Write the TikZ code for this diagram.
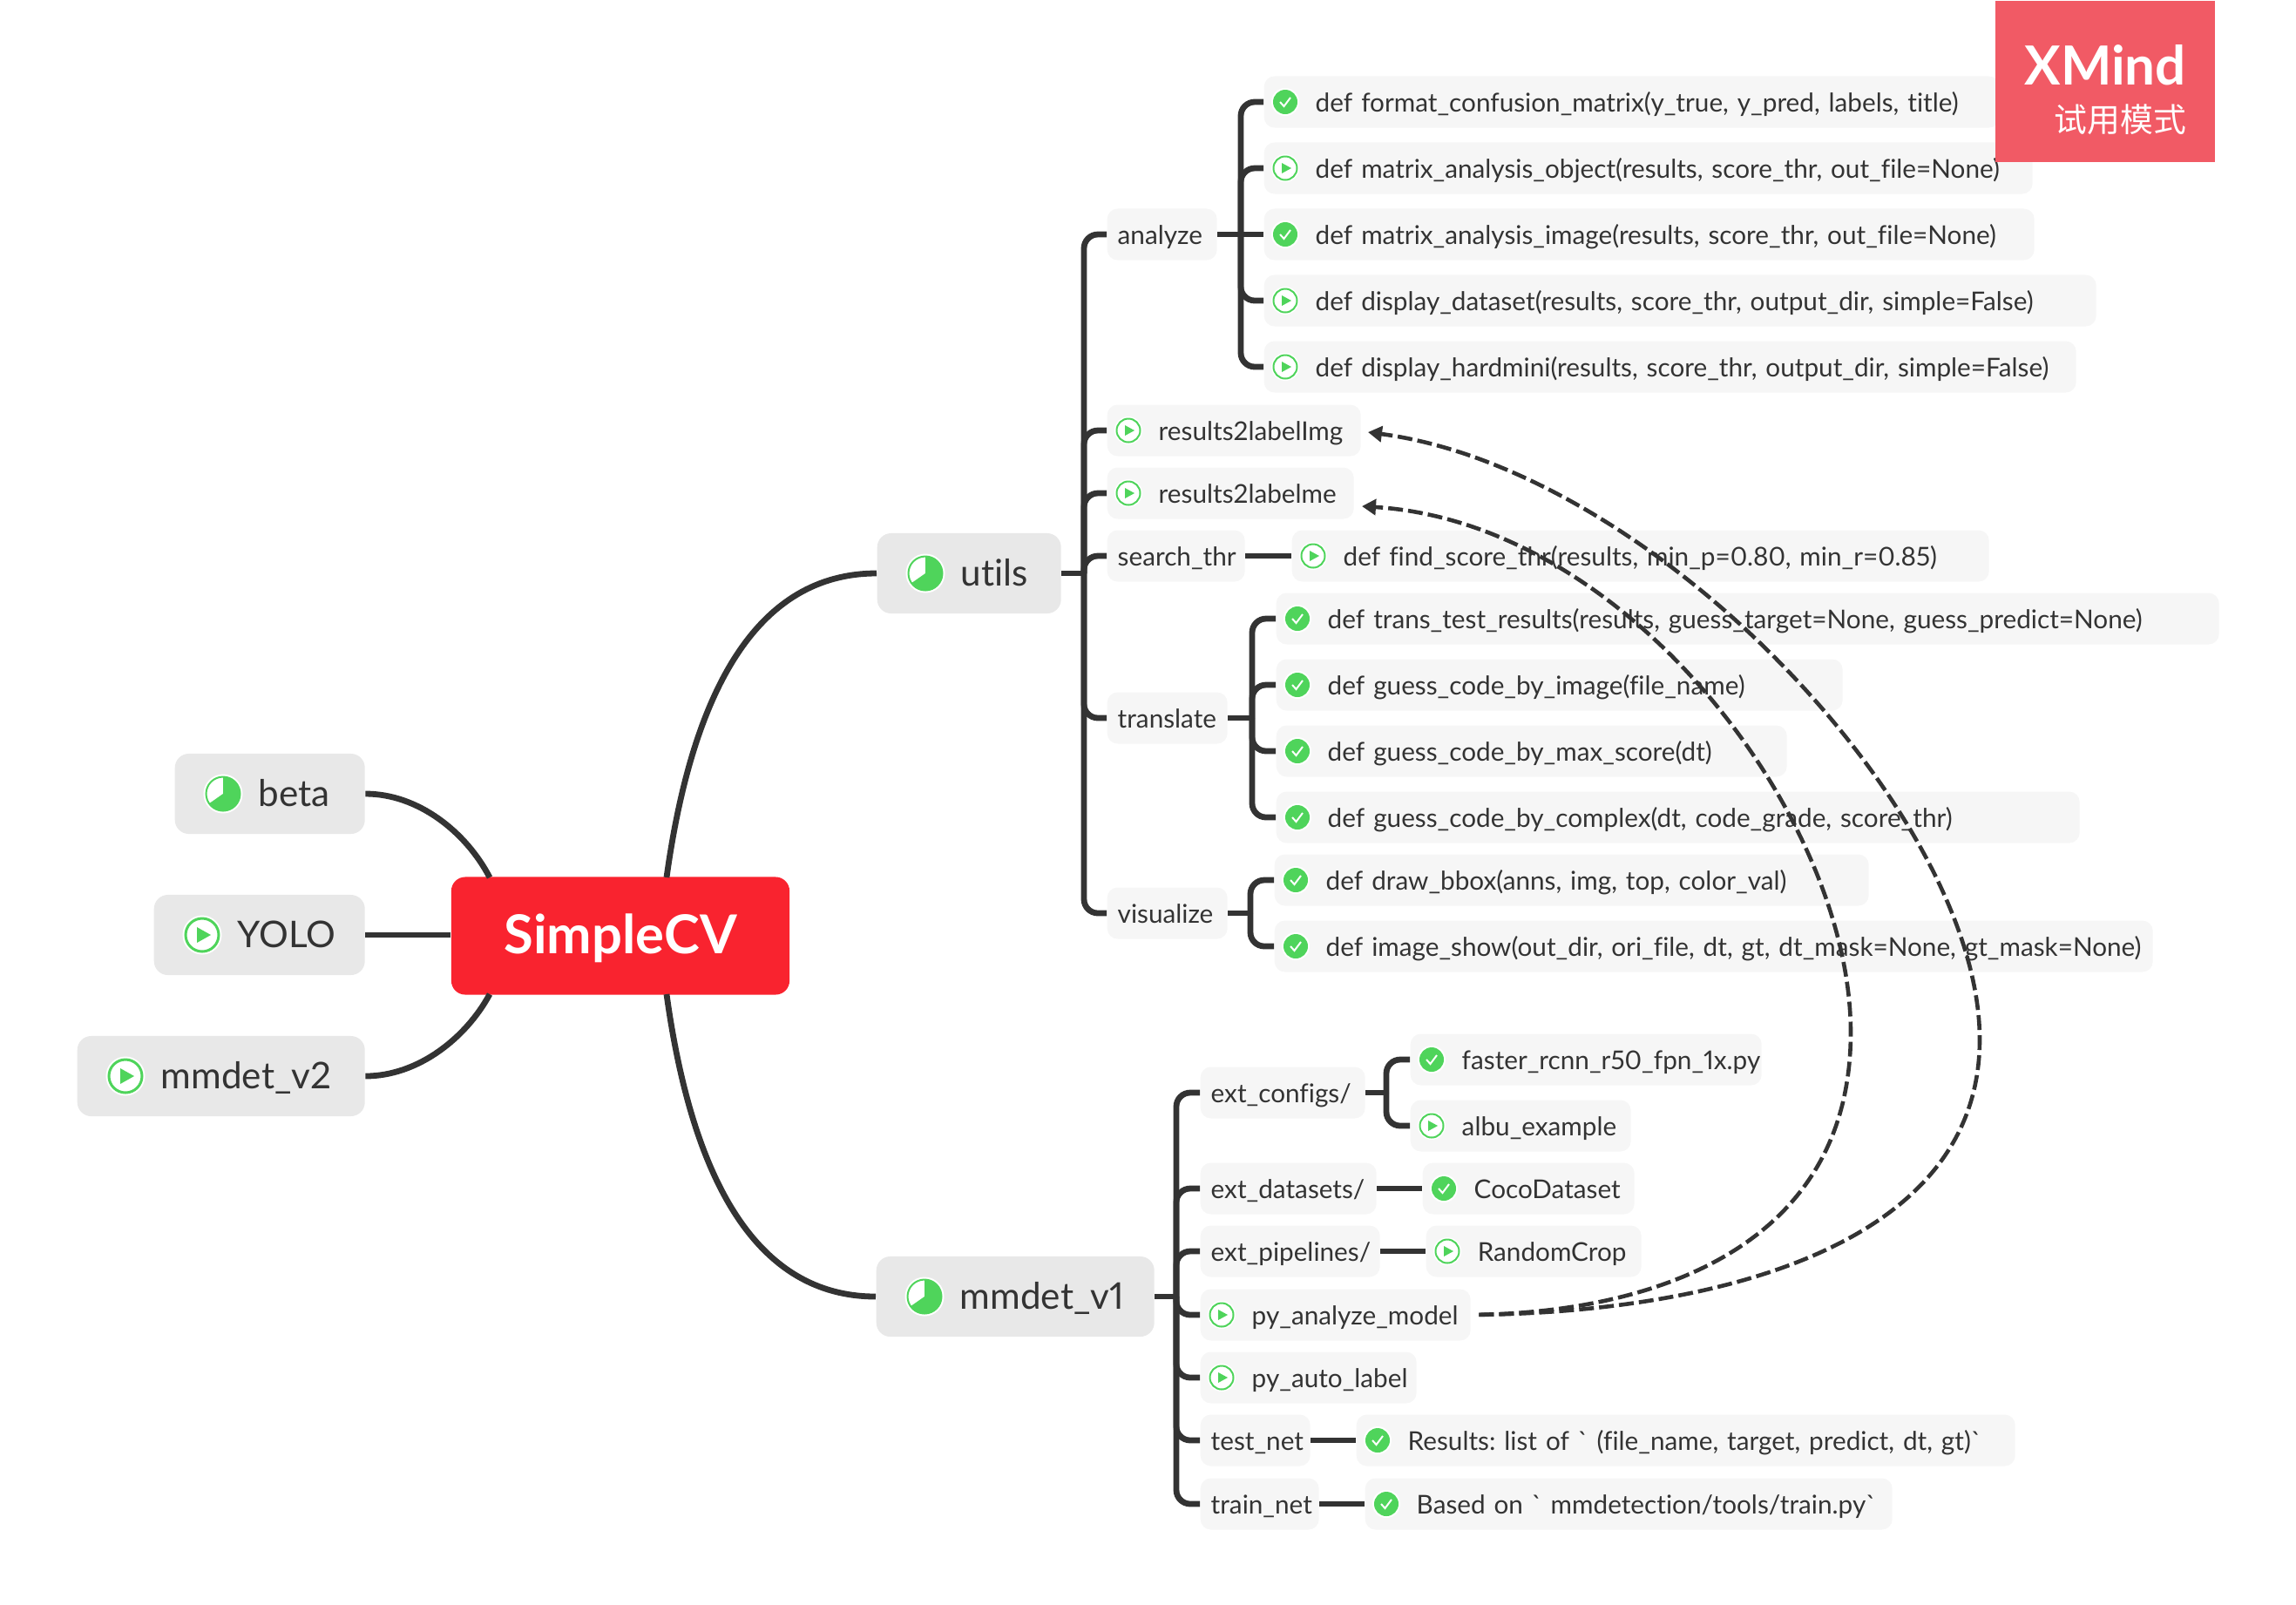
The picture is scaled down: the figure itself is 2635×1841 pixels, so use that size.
\documentclass[tikz,border=0pt]{standalone}
\usepackage{fontspec}
\setmainfont{Lato}[Ligatures=NoCommon,Numbers=Proportional]
\newfontfamily\cjk{Noto Sans CJK SC}
\usetikzlibrary{arrows.meta}
\frenchspacing
\definecolor{ink}{HTML}{333333}
\definecolor{okgreen}{HTML}{4FD45B}
\definecolor{mainfill}{HTML}{E8E8E8}
\definecolor{leaffill}{HTML}{F6F6F6}
\definecolor{rootred}{HTML}{F9232F}
\definecolor{trialred}{HTML}{F15A65}
\tikzset{
  mainbox/.style={fill=mainfill,text=ink,anchor=west,rounded corners=.16cm,minimum height=.92cm,inner xsep=0pt,inner ysep=0pt,
    align=left,text width=#1*.01cm,font=\fontsize{12}{13}\selectfont,text height=.35cm,text depth=.07cm},
  leaf/.style={fill=leaffill,text=ink,anchor=west,rounded corners=.12cm,minimum height=.59cm,inner xsep=0pt,inner ysep=0pt,
    align=left,text width=#1*.01cm,font=\fontsize{8.45}{9}\selectfont,text height=.26cm,text depth=.03cm},
  branch/.style={draw=ink,line width=.068cm},
  elbow/.style={branch,rounded corners=.16cm},
  relline/.style={draw=ink,line width=.046cm,dash pattern=on .17cm off .06cm,shorten <=.09cm},
}
% icons, drawn at a node's left end
\newcommand{\icheck}[1]{\fill[white] (#1) +(25,0) circle (16); \fill[okgreen] (#1) +(25,0) circle (14);
  \draw[white,line width=.02cm] (#1) ++(19,0) -- ++(4.5,5) -- ++(7.5,-10);}
\newcommand{\iplay}[1]{\fill[white] (#1) +(25,0) circle (16); \draw[okgreen,line width=.02cm] (#1) +(25,0) circle (13.5);
  \fill[okgreen] (#1) ++(21,-6) -- ++(11,6) -- ++(-11,6) -- cycle;}
\newcommand{\ibigplay}[1]{\fill[white] (#1) +(56,0) circle (22.5); \draw[okgreen,line width=.03cm] (#1) +(56,0) circle (19);
  \fill[okgreen] (#1) ++(50,-9) -- ++(16,9) -- ++(-16,9) -- cycle;}
\newcommand{\ipie}[1]{\fill[white] (#1) +(56,0) circle (22.5); \draw[okgreen,line width=.02cm] (#1) +(56,0) circle (19.5);
  \fill[okgreen] (#1) +(56,0) -- ++(56,-19.5) arc (-90:145:19.5) -- cycle;}
\newcommand{\bigtx}{\hspace*{.96cm}}
\newcommand{\tx}{\hspace*{.12cm}}
\newcommand{\ictx}{\hspace*{.59cm}}
\begin{document}
\begin{tikzpicture}[x=.01cm,y=-.01cm]
  \useasboundingbox (0,0) rectangle (2635,1841);
  % left side
  \node[mainbox=218] (beta) at (200,911) {\bigtx beta};
  \node[mainbox=242] (yolo) at (176,1073) {\bigtx YOLO};
  \node[mainbox=330] (mmdetTwo) at (88,1235) {\bigtx mmdet\_v2};
  % main branches
  \node[mainbox=211] (utils) at (1006,658) {\bigtx utils};
  \node[mainbox=319] (mmdetOne) at (1005,1488) {\bigtx mmdet\_v1};
  % utils
  \node[leaf=126] (analyze) at (1270,269) {\tx analyze};
  \node[leaf=291] (resImg) at (1270,494) {\ictx results2labelImg};
  \node[leaf=283] (resMe) at (1270,566) {\ictx results2labelme};
  \node[leaf=158] (searchThr) at (1270,638) {\tx search\_thr};
  \node[leaf=138] (translate) at (1270,824) {\tx translate};
  \node[leaf=138] (visualize) at (1270,1048) {\tx visualize};
  % analyze
  \node[leaf=844] (formatCm) at (1450,117) {\ictx def format\_confusion\_matrix(y\_true, y\_pred, labels, title)};
  \node[leaf=882] (matObject) at (1450,193) {\ictx def matrix\_analysis\_object(results, score\_thr, out\_file=None)};
  \node[leaf=884] (matImage) at (1450,269) {\ictx def matrix\_analysis\_image(results, score\_thr, out\_file=None)};
  \node[leaf=955] (dispData) at (1450,345) {\ictx def display\_dataset(results, score\_thr, output\_dir, simple=False)};
  \node[leaf=932] (dispHard) at (1450,421) {\ictx def display\_hardmini(results, score\_thr, output\_dir, simple=False)};
  \node[leaf=800] (findScore) at (1482,638) {\ictx def find\_score\_thr(results, min\_p=0.80, min\_r=0.85)};
  % translate
  \node[leaf=1082] (transTest) at (1464,710) {\ictx def trans\_test\_results(results, guess\_target=None, guess\_predict=None)};
  \node[leaf=650] (guessImg) at (1464,786) {\ictx def guess\_code\_by\_image(file\_name)};
  \node[leaf=586] (guessMax) at (1464,862) {\ictx def guess\_code\_by\_max\_score(dt)};
  \node[leaf=922] (guessCx) at (1464,938) {\ictx def guess\_code\_by\_complex(dt, code\_grade, score\_thr)};
  % visualize
  \node[leaf=682] (drawBox) at (1462,1010) {\ictx def draw\_bbox(anns, img, top, color\_val)};
  \node[leaf=1008] (imgShow) at (1462,1086) {\ictx def image\_show(out\_dir, ori\_file, dt, gt, dt\_mask=None, gt\_mask=None)};
  % mmdet_v1
  \node[leaf=189] (extCfg) at (1377,1254) {\tx ext\_configs/};
  \node[leaf=403] (faster) at (1618,1216) {\ictx faster\_rcnn\_r50\_fpn\_1x.py};
  \node[leaf=253] (albu) at (1618,1292) {\ictx albu\_example};
  \node[leaf=202] (extData) at (1377,1364) {\tx ext\_datasets/};
  \node[leaf=243] (coco) at (1632,1364) {\ictx CocoDataset};
  \node[leaf=206] (extPipe) at (1377,1436) {\tx ext\_pipelines/};
  \node[leaf=247] (randCrop) at (1636,1436) {\ictx RandomCrop};
  \node[leaf=310] (pyAnalyze) at (1377,1509) {\ictx py\_analyze\_model};
  \node[leaf=248] (pyAuto) at (1377,1581) {\ictx py\_auto\_label};
  \node[leaf=126] (testNet) at (1377,1653) {\tx test\_net};
  \node[leaf=756] (resList) at (1556,1653) {\ictx Results: list of \textasciigrave\ (file\_name, target, predict, dt, gt)\textasciigrave};
  \node[leaf=136] (trainNet) at (1377,1726) {\tx train\_net};
  \node[leaf=605] (basedOn) at (1566,1726) {\ictx Based on \textasciigrave\ mmdetection/tools/train.py\textasciigrave};
  % icons
  \ipie{beta.west} \ibigplay{yolo.west} \ibigplay{mmdetTwo.west} \ipie{utils.west} \ipie{mmdetOne.west}
  \iplay{resImg.west} \iplay{resMe.west} \iplay{matObject.west} \iplay{dispData.west} \iplay{dispHard.west} \iplay{findScore.west}
  \icheck{formatCm.west} \icheck{matImage.west} \icheck{transTest.west} \icheck{guessImg.west} \icheck{guessMax.west} \icheck{guessCx.west}
  \icheck{drawBox.west} \icheck{imgShow.west} \icheck{faster.west} \iplay{albu.west} \icheck{coco.west} \iplay{randCrop.west}
  \iplay{pyAnalyze.west} \iplay{pyAuto.west} \icheck{resList.west} \icheck{basedOn.west}
  % root
  \node[fill=rootred,text=white,rounded corners=.16cm,minimum width=3.88cm,minimum height=1.35cm,inner sep=0pt,text height=.44cm,text depth=.04cm,font=\fontsize{17.5}{20}\bfseries\selectfont] (root) at (712,1074) {SimpleCV};
  \coordinate (rootUL) at (562,1007);
  \coordinate (rootLL) at (562,1141);
  \coordinate (rootUR) at (765,1007);
  \coordinate (rootLR) at (765,1141);
  % branches at the root
  \draw[branch] (beta.east) .. controls (480,911) and (535,955) .. (rootUL);
  \draw[branch] (yolo.east) -- (yolo.east -| root.west);
  \draw[branch] (mmdetTwo.east) .. controls (480,1235) and (535,1191) .. (rootLL);
  \draw[branch] (rootUR) .. controls (795,790) and (870,658) .. (utils.west);
  \draw[branch] (rootLR) .. controls (795,1358) and (870,1488) .. (mmdetOne.west);
  % utils trunk
  \coordinate (utilsJ) at (1244,658);
  \draw[branch] (utils.east) -- (utilsJ);
  \draw[elbow] (analyze.west) -| (utilsJ);
  \draw[elbow] (resImg.west) -| (utilsJ);
  \draw[elbow] (resMe.west) -| (utilsJ);
  \draw[elbow] (searchThr.west) -| (utilsJ);
  \draw[elbow] (translate.west) -| (utilsJ);
  \draw[elbow] (visualize.west) -| (utilsJ);
  \draw[branch] (searchThr.east) -- (findScore.west);
  % analyze trunk
  \coordinate (analyzeJ) at (1424,269);
  \draw[branch] (analyze.east) -- (matImage.west);
  \draw[elbow] (formatCm.west) -| (analyzeJ);
  \draw[elbow] (matObject.west) -| (analyzeJ);
  \draw[elbow] (dispData.west) -| (analyzeJ);
  \draw[elbow] (dispHard.west) -| (analyzeJ);
  % translate trunk
  \coordinate (translateJ) at (1437,824);
  \draw[branch] (translate.east) -- (translateJ);
  \draw[elbow] (transTest.west) -| (translateJ);
  \draw[elbow] (guessImg.west) -| (translateJ);
  \draw[elbow] (guessMax.west) -| (translateJ);
  \draw[elbow] (guessCx.west) -| (translateJ);
  % visualize trunk
  \coordinate (visualizeJ) at (1435,1048);
  \draw[branch] (visualize.east) -- (visualizeJ);
  \draw[elbow] (drawBox.west) -| (visualizeJ);
  \draw[elbow] (imgShow.west) -| (visualizeJ);
  % mmdet_v1 trunk
  \coordinate (mmdetJ) at (1350,1488);
  \draw[branch] (mmdetOne.east) -- (mmdetJ);
  \draw[elbow] (extCfg.west) -| (mmdetJ);
  \draw[elbow] (extData.west) -| (mmdetJ);
  \draw[elbow] (extPipe.west) -| (mmdetJ);
  \draw[elbow] (pyAnalyze.west) -| (mmdetJ);
  \draw[elbow] (pyAuto.west) -| (mmdetJ);
  \draw[elbow] (testNet.west) -| (mmdetJ);
  \draw[elbow] (trainNet.west) -| (mmdetJ);
  \coordinate (cfgJ) at (1591,1254);
  \draw[branch] (extCfg.east) -- (cfgJ);
  \draw[elbow] (faster.west) -| (cfgJ);
  \draw[elbow] (albu.west) -| (cfgJ);
  \draw[branch] (extData.east) -- (coco.west);
  \draw[branch] (extPipe.east) -- (randCrop.west);
  \draw[branch] (testNet.east) -- (resList.west);
  \draw[branch] (trainNet.east) -- (basedOn.west);
  % relations
  \coordinate (imgTip) at (1570,496);
  \coordinate (meTip) at (1563,581);
  \draw[relline,-{Triangle[length=.16cm,width=.18cm]}] (pyAnalyze.east) .. controls (1970,1505) and (2272,1430) .. (2272,1193) .. controls (2272,935) and (1900,540) .. (imgTip);
  \draw[relline,-{Triangle[length=.16cm,width=.18cm]}] (pyAnalyze.east) .. controls (1900,1505) and (2124,1430) .. (2124,1185) .. controls (2124,940) and (1870,600) .. (meTip);
  % trial badge
  \node[fill=trialred,text=white,inner sep=0pt,align=right,text width=2.52cm,anchor=north west,font=\fontsize{10}{15.4}\selectfont] (trial) at (2289,0)
    {\rule{0pt}{.97cm}{\fontsize{17.6}{15.4}\bfseries\selectfont XMind}\hspace*{.33cm}\mbox{}\\{\cjk\fontsize{10.75}{15.4}\selectfont 试用模式}\hspace*{.33cm}\rule[-.34cm]{0pt}{.34cm}};
\end{tikzpicture}
\end{document}
